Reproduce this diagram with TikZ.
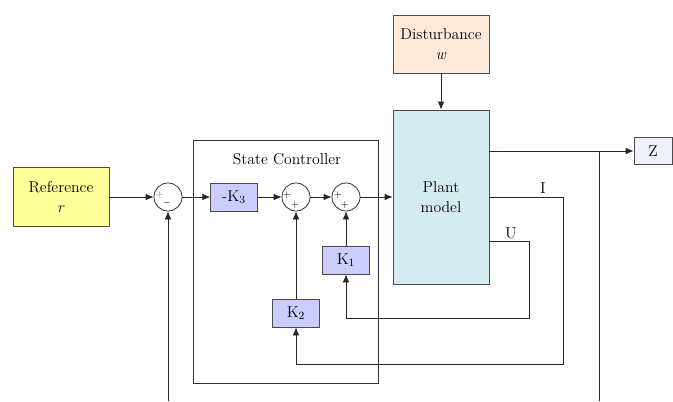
\documentclass[tikz,border=0pt]{standalone}
\usetikzlibrary{arrows.meta}
\definecolor{reffill}{HTML}{FFFF99}
\definecolor{distfill}{HTML}{FCE9DA}
\definecolor{plantfill}{HTML}{D4EBF1}
\definecolor{kfill}{HTML}{CCCCFF}
\definecolor{zfill}{HTML}{EEF1F7}

\begin{document}
\begin{tikzpicture}[x=0.75pt,y=-0.75pt,font=\rmfamily\fontsize{11.8}{14.5}\selectfont,>={Latex[length=6pt,width=5pt]},
 line width=0.6pt,
 blk/.style={draw=black!70,inner sep=0pt,align=center},
 gain/.style={blk,fill=kfill,minimum width=35pt,minimum height=21pt},
 sum/.style={draw=black!80,circle,minimum size=21pt,inner sep=0pt},
 sgn/.style={font=\rmfamily\fontsize{7}{7}\selectfont,inner sep=0pt},
 flow/.style={->,black!85}]
\useasboundingbox (0,0) rectangle (673,401);
\node[blk,fill=reffill,minimum width=72pt,minimum height=44pt] (ref) at (61,197) {Reference\\\textit{r}};
\node[blk,fill=distfill,minimum width=72pt,minimum height=43.5pt] (dist) at (441,44) {Disturbance\\\textit{w}};
\node[blk,fill=plantfill,minimum width=72pt,minimum height=130.5pt] (plant) at (441,197) {Plant\\model};
\node[blk,fill=zfill,minimum width=28.5pt,minimum height=20pt] (z) at (653,151) {Z};

\node[draw=black!80,minimum width=138.75pt,minimum height=182.25pt,inner sep=0pt] (ctrl) at (285.5,261.5) {};
\node (ctrltitle) at (287,159) {State Controller};
\node[sum] (sum1) at (168,197) {};
\node[gain] (k3) at (234,197) {-K\textsubscript{3}};
\node[sum] (sum2) at (296,197) {};
\node[sum] (sum3) at (346,197) {};
\node[gain] (k1) at (346,260) {K\textsubscript{1}};
\node[gain] (k2) at (296,313) {K\textsubscript{2}};

% signs on the summing junctions
\node[sgn,text=black!50] (s1p) at ([shift={(-8,-2)}]sum1.center) {+};
\node[sgn] (s1m) at ([shift={(-1,7)}]sum1.center) {\textbf{--}};
\node[sgn] (s2p) at ([shift={(-9,-2)}]sum2.center) {+};
\node[sgn] (s2q) at ([shift={(-1,8)}]sum2.center) {+};
\node[sgn] (s3p) at ([shift={(-8,-2)}]sum3.center) {+};
\node[sgn] (s3q) at ([shift={(-1,8)}]sum3.center) {+};

\node (ilabel) at (543,188) {I};
\node (ulabel) at (511,233) {U};

\draw[flow] (ref) -- (sum1);
\draw[flow] (sum1) -- (k3);
\draw[flow] (k3) -- (sum2);
\draw[flow] (sum2) -- (sum3);
\draw[flow] (sum3) -- (plant);
\draw[flow] (dist) -- (plant);
\draw[flow] (plant.east |- z) -- (z);
\coordinate (tap) at (599,151);
\coordinate (zend) at (599,401);
\draw[black!85] (tap) -- (zend);
\coordinate (fbin) at (168,401);
\draw[flow] (fbin) -- (sum1);
\coordinate (ibend) at (563,364);
\draw[flow] (plant.east) -| (ibend) -| (k2);
\coordinate (ubend) at (529,318);
\draw[flow] ([yshift=-33pt]plant.east) -| (ubend) -| (k1);
\draw[flow] (k1) -- (sum3);
\draw[flow] (k2) -- (sum2);
\end{tikzpicture}
\end{document}
